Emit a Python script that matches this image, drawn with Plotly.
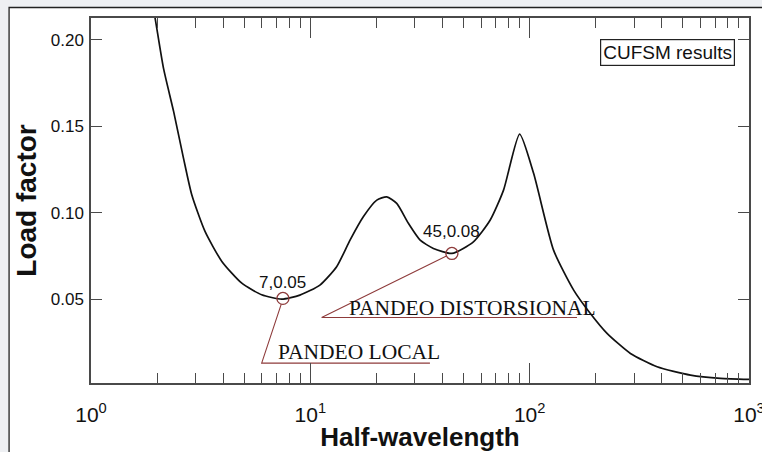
import numpy as np
import plotly.graph_objects as go

# ---- data (CUFSM signature curve) ----
half_wavelength = [1.91, 1.96, 2.14, 2.38, 2.64, 2.88, 3.31, 3.95, 4.87, 6.0, 7.4,
                   8.96, 11.06, 13.18, 15.17, 17.44, 20.09, 22.3, 24.77, 27.99,
                   31.67, 36.4, 44.2, 55.4, 66.1, 76.0, 90.0, 104.2, 128.5, 158.7,
                   189.1, 225.3, 288.0, 381.0, 541.0, 741.0, 1000.0]
load_factor = [0.220, 0.2124, 0.1835, 0.1585, 0.1315, 0.1103, 0.0891, 0.0718, 0.0592,
               0.0525, 0.0500, 0.0523, 0.0581, 0.0687, 0.0841, 0.0976, 0.1072, 0.1091,
               0.1053, 0.0938, 0.0841, 0.0793, 0.0764, 0.0831, 0.0957, 0.1130, 0.1454,
               0.1227, 0.0783, 0.0552, 0.0417, 0.0302, 0.0186, 0.0109, 0.0061, 0.0042,
               0.0036]

point_x = [7.5, 44.2]
point_y = [0.0504, 0.0764]
point_labels = ["7,0.05", "45,0.08"]
point_label_shift = [16, 22]

local_leader_x = [7.37, 6.0, 35.1]
local_leader_y = [0.0471, 0.0130, 0.0130]
dist_leader_x = [41.75, 11.26, 164.4]
dist_leader_y = [0.0749, 0.0394, 0.0394]
mode_labels = ["PANDEO LOCAL", "PANDEO DISTORSIONAL"]
mode_label_x = [7.0, 14.7]
mode_label_y = [0.0130, 0.0394]
mode_label_shift = [-3, -5]

x_tickvals = [1, 10, 100, 1000]
x_ticktext = ["10<sup>0</sup>", "10<sup>1</sup>", "10<sup>2</sup>", "10<sup>3</sup>"]
x_minor = [m * 10 ** e for e in range(3) for m in range(2, 10)]
y_tickvals = [0.05, 0.10, 0.15, 0.20]
y_ticktext = ["0.05", "0.10", "0.15", "0.20"]

SANS = "Liberation Sans, Arial, Helvetica, sans-serif"
SERIF = "Liberation Serif, Times New Roman, serif"
RED = "#8e3b3b"
AX = "#4a4a4a"

fig = go.Figure()

fig.add_trace(go.Scatter(x=half_wavelength, y=load_factor, mode="lines",
                         line=dict(color="#111111", width=1.7, shape="spline",
                                   smoothing=0.6),
                         hoverinfo="skip"))
fig.add_trace(go.Scatter(x=local_leader_x, y=local_leader_y, mode="lines",
                         line=dict(color=RED, width=1.1), hoverinfo="skip"))
fig.add_trace(go.Scatter(x=dist_leader_x, y=dist_leader_y, mode="lines",
                         line=dict(color=RED, width=1.1), hoverinfo="skip"))
fig.add_trace(go.Scatter(x=point_x, y=point_y, mode="markers",
                         marker=dict(symbol="circle-open", size=12,
                                     line=dict(color=RED, width=1.3), color=RED),
                         hoverinfo="skip"))

annotations = []
for x, y, t, s in zip(point_x, point_y, point_labels, point_label_shift):
    annotations.append(dict(x=np.log10(x), y=y, xref="x", yref="y", text=t,
                            showarrow=False, yshift=s, xanchor="center",
                            yanchor="middle",
                            font=dict(family=SANS, size=17, color="#111111")))
for x, y, t, s in zip(mode_label_x, mode_label_y, mode_labels, mode_label_shift):
    annotations.append(dict(x=np.log10(x), y=y, xref="x", yref="y", text=t,
                            showarrow=False, xanchor="left", yanchor="bottom",
                            yshift=s,
                            font=dict(family=SERIF, size=21.5, color="#111111")))
annotations.append(dict(x=0.978, y=0.9055, xref="paper", yref="paper",
                        text="CUFSM results", showarrow=False,
                        xanchor="right", yanchor="middle",
                        bordercolor="#222222", borderwidth=1.2, borderpad=2,
                        bgcolor="white",
                        font=dict(family=SANS, size=19, color="#111111")))

fig.update_layout(
    width=762, height=452,
    margin=dict(l=91, r=13, t=18, b=69),
    paper_bgcolor="#eef0f3",
    plot_bgcolor="white",
    showlegend=False,
    annotations=annotations,
    shapes=[dict(type="rect", xref="paper", yref="paper",
                 x0=-0.1245, x1=1.2, y0=-0.4, y1=1.0288,
                 fillcolor="white", line=dict(color="#222222", width=1.3),
                 layer="below")],
)

fig.update_xaxes(
    type="log", range=[0, 3], automargin=False,
    tickmode="array", tickvals=x_tickvals, ticktext=x_ticktext,
    ticks="inside", ticklen=20, tickwidth=1.3, tickcolor=AX,
    minor=dict(tickmode="array", tickvals=x_minor, ticks="inside", ticklen=10,
               tickwidth=1.1, tickcolor=AX, showgrid=False),
    showline=True, linecolor=AX, linewidth=1.5, mirror="ticks",
    showgrid=False, zeroline=False,
    tickfont=dict(family=SANS, size=21, color="#111111"),
    ticklabelstandoff=12, ticklabeloverflow="allow",
    title=dict(text="<b>Half-wavelength</b>", standoff=0,
               font=dict(family=SANS, size=26, color="#111111")),
)
fig.update_yaxes(
    range=[0.0015, 0.2125], automargin=False,
    tickmode="array", tickvals=y_tickvals, ticktext=y_ticktext,
    ticks="inside", ticklen=11, tickwidth=1.3, tickcolor=AX,
    showline=True, linecolor=AX, linewidth=1.5, mirror="ticks",
    showgrid=False, zeroline=False,
    tickfont=dict(family=SANS, size=17, color="#111111"),
    ticklabelstandoff=2,
    title=dict(text="<b>Load factor</b>", standoff=6,
               font=dict(family=SANS, size=28, color="#111111")),
)

fig.write_html("out.html", config={"displayModeBar": False},
               post_script="document.body.style.margin='0px';"
                           "document.body.style.background='#eef0f3';")
